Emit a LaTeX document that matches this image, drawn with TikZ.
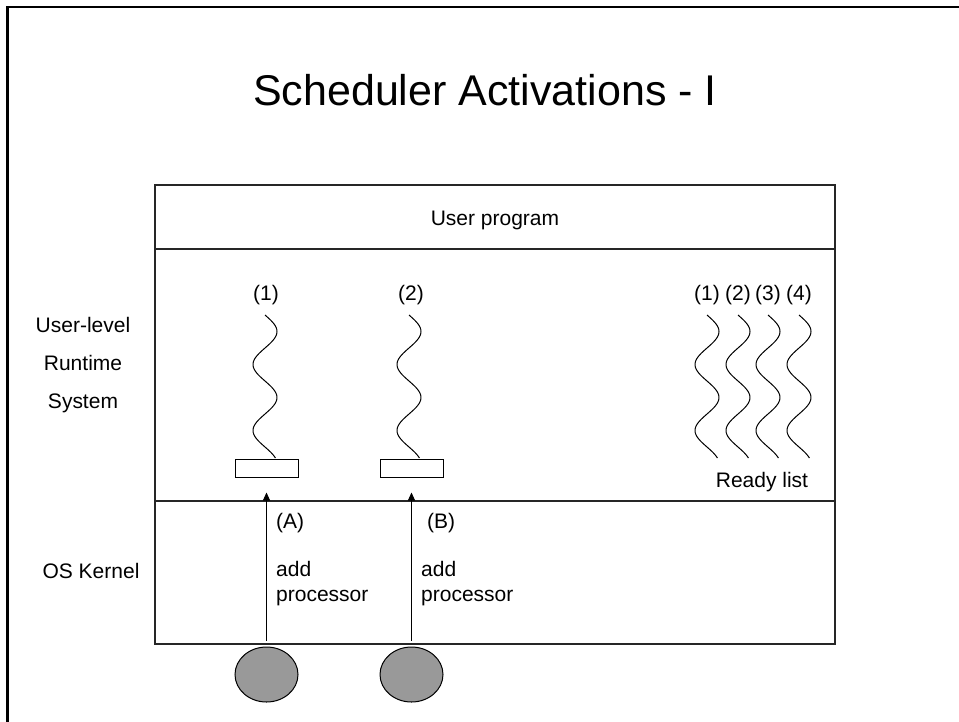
\documentclass[tikz,border=0pt]{standalone}
\usepackage{fontspec}
\setmainfont{Liberation Sans}
\usetikzlibrary{arrows.meta,shapes.geometric}
\begin{document}
\begin{tikzpicture}[x=1pt,y=-1pt,
  lbl/.style={font=\fontsize{21}{25}\selectfont, anchor=base, inner sep=0pt},
  lbll/.style={lbl, anchor=base west},
  ttl/.style={font=\fontsize{43}{52}\selectfont, anchor=base, inner sep=0pt},
  frameline/.style={line width=2.5pt, line join=miter},
  boxline/.style={line width=1.3pt, draw=black!85},
  thread/.style={line width=1pt},
  slot/.style={draw, line width=1pt, minimum width=63pt, minimum height=18pt, inner sep=0pt},
  cpu/.style={ellipse, draw, line width=1pt, fill=black!40, minimum width=63pt, minimum height=55pt, inner sep=0pt},
  arr/.style={-{Triangle[length=8pt,width=7pt]}, line width=1pt}
]
\useasboundingbox (0,0) rectangle (959,721);

% slide frame
\draw[frameline] (7.5,725) -- (7.5,7) -- (965,7);

% title
\node[ttl] (title) at (485,105) {Scheduler Activations - I};

% layered box
\draw[boxline] (155,185) rectangle (835,644);
\draw[boxline] (155,249) -- (835,249);
\draw[boxline] (155,501) -- (835,501);
\node[lbl] (userprog) at (495,225) {User program};

% layer names
\node[lbl] (ul) at (83,332) {User-level};
\node[lbl] (rt) at (83,370) {Runtime};
\node[lbl] (sy) at (83,408) {System};
\node[lbl] (os) at (91,578) {OS Kernel};

% a thread: wavy line from y=315 to y=458 centred at #1 (period 66)
\newcommand{\wavythread}[1]{%
  \draw[thread] plot[variable=\t, domain=0:143, samples=80, smooth]
    ({#1+12*sin(\t*5.4545)},{315+\t});}

% running threads on their activations
\node[lbl] (t1) at (266,300) {(1)};
\node[lbl] (t2) at (411,300) {(2)};
\wavythread{265}
\wavythread{409}
\node[slot] (slotA) at (266.5,468) {};
\node[slot] (slotB) at (411.5,468) {};

% ready list
\foreach \cx/\n in {707/1,738/2,768/3,799/4}{
  \node[lbl] (r\n) at (\cx,300) {(\n)};
  \wavythread{\cx}
}
\node[lbl] (ready) at (762,487) {Ready list};

% processors
\node[cpu] (cpuA) at (266.5,674.5) {};
\node[cpu] (cpuB) at (411.5,674.5) {};
\draw[arr] ([yshift=6pt]cpuA.north) -- ([yshift=-15pt]slotA.south);
\draw[arr] ([yshift=6pt]cpuB.north) -- ([yshift=-15pt]slotB.south);

% upcall labels
\node[lbll] (la) at (276,528) {(A)};
\node[lbll] (aa) at (276,576) {add};
\node[lbll] (pa) at (276,601) {processor};
\node[lbll] (lb) at (427,528) {(B)};
\node[lbll] (ab) at (421,576) {add};
\node[lbll] (pb) at (421,601) {processor};
\end{tikzpicture}
\end{document}
